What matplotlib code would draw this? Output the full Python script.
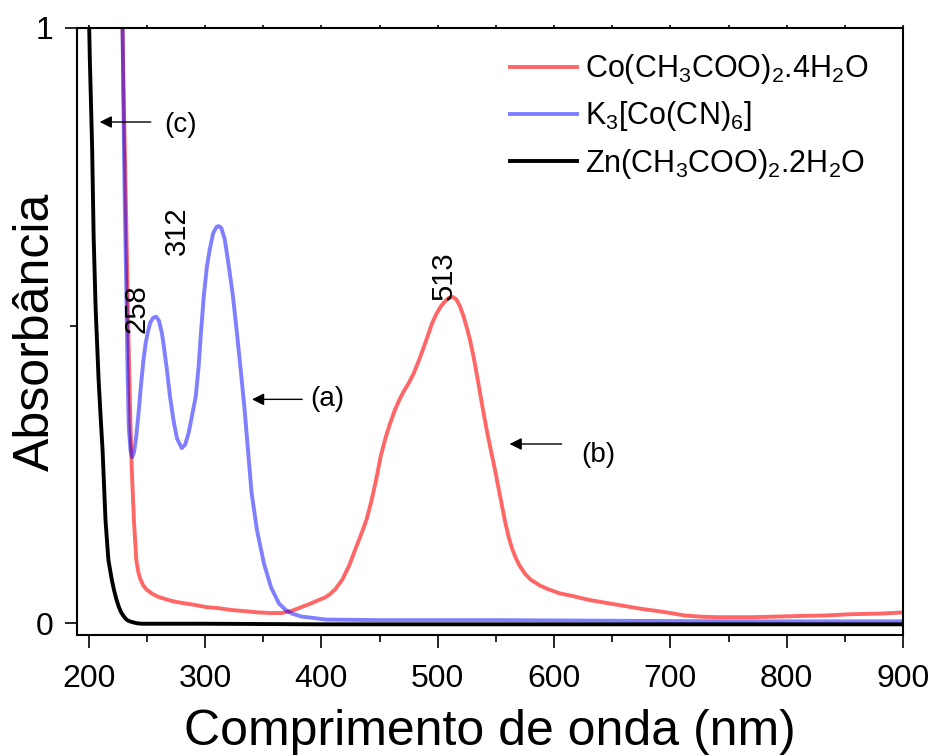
import matplotlib
matplotlib.use("Agg")
import matplotlib.pyplot as plt
from matplotlib.ticker import MultipleLocator

plt.rcParams['font.family'] = ['Liberation Sans', 'DejaVu Sans']
plt.rcParams['mathtext.fontset'] = 'custom'
plt.rcParams['mathtext.rm'] = 'Liberation Sans'
plt.rcParams['mathtext.default'] = 'regular'

# Co(CH3COO)2.4H2O
red_wl = [229, 230, 232, 234, 236, 237, 239, 241, 242.5, 244, 247, 250, 255, 260, 270, 277, 290,
          301, 312, 323, 335, 346, 356, 366, 375, 383, 391, 398, 403, 407, 412, 418, 424,
          430, 435, 439, 443, 447, 451, 455, 459, 463, 467, 471, 475, 479, 483, 487, 491, 495,
          499, 503, 507, 510, 513, 516, 519, 522, 525, 528, 531, 534, 537, 540, 543, 546, 549,
          552, 555, 558, 561, 564, 567, 570, 575, 580, 588, 595, 605, 615, 630, 645, 660, 675,
          690, 700, 712, 725, 740, 755, 770, 790, 811, 835, 855, 880, 900]
red_abs = [1.02, 0.90, 0.71, 0.50, 0.33, 0.262, 0.17, 0.106, 0.088, 0.076, 0.063, 0.056, 0.049, 0.044, 0.038, 0.035, 0.031,
           0.027, 0.025, 0.022, 0.020, 0.018, 0.017, 0.017, 0.021, 0.027, 0.033, 0.039, 0.043, 0.048, 0.057, 0.073, 0.097,
           0.128, 0.153, 0.175, 0.205, 0.240, 0.280, 0.310, 0.335, 0.357, 0.375, 0.390, 0.403, 0.418, 0.437, 0.458, 0.480, 0.503,
           0.520, 0.533, 0.542, 0.547, 0.548, 0.544, 0.533, 0.517, 0.497, 0.474, 0.446, 0.414, 0.380, 0.347, 0.316, 0.288, 0.260,
           0.230, 0.200, 0.170, 0.145, 0.125, 0.110, 0.098, 0.083, 0.073, 0.063, 0.057, 0.050, 0.046, 0.039, 0.034, 0.029, 0.024,
           0.020, 0.017, 0.013, 0.011, 0.010, 0.010, 0.010, 0.011, 0.012, 0.013, 0.015, 0.016, 0.018]

# K3[Co(CN)6]
blue_wl = [229, 230, 231, 232.5, 233.5, 234.5, 236, 237.5, 239, 241, 243, 245, 247, 249, 251, 253, 255.5, 258, 260.5,
           263, 265, 267, 270, 273, 276, 280, 283, 286, 289, 292, 294.5, 296.5, 299, 301.6, 304,
           307, 310, 312, 314, 317, 320.6, 324, 327.5, 331, 334, 337, 340, 344.7, 350.7, 356.8, 363.6,
           370, 375, 383, 392, 404, 450, 550, 650, 750, 900]
blue_abs = [1.02, 0.86, 0.71, 0.55, 0.42, 0.33, 0.29, 0.279, 0.287, 0.315, 0.355, 0.40, 0.44, 0.47, 0.49, 0.505, 0.513, 0.515, 0.508,
            0.487, 0.46, 0.43, 0.38, 0.34, 0.31, 0.294, 0.30, 0.32, 0.35, 0.38, 0.43, 0.487, 0.55, 0.598, 0.627,
            0.655, 0.666, 0.667, 0.664, 0.645, 0.598, 0.55, 0.487, 0.42, 0.36, 0.29, 0.22, 0.156, 0.10, 0.06, 0.033,
            0.021, 0.016, 0.011, 0.009, 0.006, 0.005, 0.005, 0.004, 0.003, 0.003]

# Zn(CH3COO)2.2H2O
black_wl = [200.3, 201, 203, 204.3, 206, 208.6, 210.5, 212, 214.5, 217, 220, 222, 224, 226, 228, 230, 232, 234, 237,
            241, 245, 300, 400, 500, 600, 700, 800, 900]
black_abs = [1.02, 0.95, 0.80, 0.65, 0.53, 0.408, 0.34, 0.29, 0.173, 0.106, 0.072, 0.054, 0.039, 0.027, 0.018, 0.012, 0.007, 0.004, 0.002,
             0.0, -0.001, -0.001, -0.002, -0.002, -0.002, -0.002, -0.002, -0.002]

labels = ['Co(CH$_3$COO)$_2$.4H$_2$O', 'K$_3$[Co(CN)$_6$]', 'Zn(CH$_3$COO)$_2$.2H$_2$O']
peaks = [258, 312, 513]
peak_pos = [(241.4, 0.528), (275.8, 0.659), (505.5, 0.583)]
y_ticks = [0, 1]
y_ticklabels = ['0', '1']

fig = plt.figure(figsize=(9.31, 7.56), dpi=100)
ax = fig.add_axes([0.0827, 0.16, 0.8873, 0.803])

ax.plot(red_wl, red_abs, color='red', alpha=0.6, lw=2.8, label=labels[0])
ax.plot(blue_wl, blue_abs, color='blue', alpha=0.5, lw=2.8, label=labels[1])
ax.plot(black_wl, black_abs, color='black', lw=2.8, label=labels[2])

for p, (px, py) in zip(peaks, peak_pos):
    ax.text(px, py, str(p), rotation=90, fontsize=21, ha='center', va='center')

arrow = dict(arrowstyle='-|>', color='black', lw=1.0, mutation_scale=18, shrinkA=0, shrinkB=0)
ax.annotate('', xy=(209.5, 0.842), xytext=(253.4, 0.842), arrowprops=arrow)
ax.text(264.6, 0.837, '(c)', fontsize=20, va='center')
ax.annotate('', xy=(340.4, 0.376), xytext=(383.5, 0.376), arrowprops=arrow)
ax.text(390.4, 0.376, '(a)', fontsize=20, va='center')
ax.annotate('', xy=(561.8, 0.301), xytext=(606.5, 0.301), arrowprops=arrow)
ax.text(623, 0.282, '(b)', fontsize=20, va='center')

ax.set_xlim(190, 900)
ax.set_ylim(-0.02, 1.0)
ax.xaxis.set_major_locator(MultipleLocator(100))
ax.xaxis.set_minor_locator(MultipleLocator(50))
ax.set_yticks(y_ticks)
ax.set_yticklabels(y_ticklabels)
ax.yaxis.set_minor_locator(MultipleLocator(0.5))
ax.tick_params(which='major', direction='out', length=9, width=1.2, labelsize=23)
ax.tick_params(which='minor', direction='out', length=5, width=1.2)
ax.tick_params(axis='x', which='major', pad=12)
ax.tick_params(axis='y', which='major', pad=8)
ax.xaxis.set_tick_params(which='both', top=True)
for t in ax.xaxis.get_major_ticks() + ax.xaxis.get_minor_ticks():
    t.tick2line.set_markersize(2)
for s in ax.spines.values():
    s.set_linewidth(1.5)

ax.set_xlabel('Comprimento de onda (nm)', fontsize=36, labelpad=11)
ax.set_ylabel('Absorbância', fontsize=36)
ax.yaxis.set_label_coords(-0.022, 0.5)

ax.legend(loc='upper left', bbox_to_anchor=(0.524, 0.96), frameon=False, fontsize=22,
          handlelength=2.2, handletextpad=0.25, labelspacing=0.43, borderpad=0, borderaxespad=0)

fig.savefig('out.png', dpi=100)
